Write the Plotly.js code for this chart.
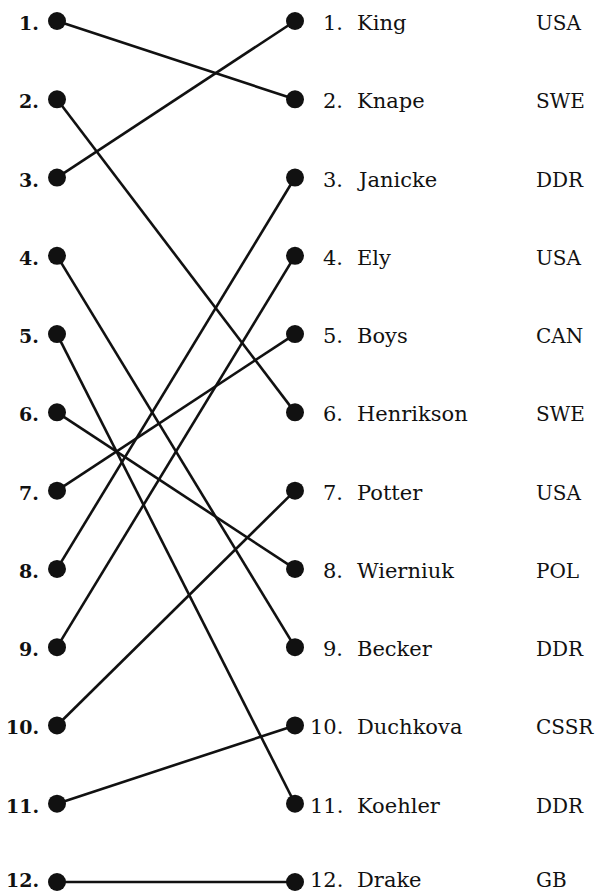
<!DOCTYPE html>
<html>
<head>
<meta charset="utf-8">
<script src="https://cdn.plot.ly/plotly-3.0.1.min.js"></script>
<style>html,body{margin:0;padding:0;background:#fff;}#chart{width:596px;height:895px;}</style>
</head>
<body>
<div id="chart"></div>
<script>
// Final ranking (right column), in order of final place
const finalRanks = [1,2,3,4,5,6,7,8,9,10,11,12];
const names = ["King","Knape","Janicke","Ely","Boys","Henrikson","Potter","Wierniuk","Becker","Duchkova","Koehler","Drake"];
const countries = ["USA","SWE","DDR","USA","CAN","SWE","USA","POL","DDR","CSSR","DDR","GB"];
// Earlier ranking (left column) of each athlete above
const startRanks = [3,1,8,9,7,2,10,6,4,11,5,12];
const leftLabels = ["1.","2.","3.","4.","5.","6.","7.","8.","9.","10.","11.","12."];

const ink = "#111111";
const W = 596, H = 895;
const xLeftPx = 57, xRightPx = 295;
const pxPerUnit = xRightPx - xLeftPx;
const xr = [-xLeftPx / pxPerUnit, (W - xLeftPx) / pxPerUnit];
const yTop = 21, yBot = 882;
const pxPerRank = (yBot - yTop) / 11;
const yr = [1 + (H - yTop) / pxPerRank, 1 - yTop / pxPerRank];
const toX = px => (px - xLeftPx) / pxPerUnit;

const traces = names.map((n, i) => ({
  type: "scatter", mode: "lines+markers",
  x: [0, 1], y: [startRanks[i], finalRanks[i]],
  line: {color: ink, width: 2.6},
  marker: {color: ink, size: 18},
  hoverinfo: "skip", showlegend: false
}));

const fam = "DejaVu Serif";
const font = {family: fam, size: 21, color: ink};
const fontC = {family: fam, size: 20, color: ink};
const fontBold = {family: fam, size: 19, color: ink, weight: "bold"};
const shiftFor = r => (r === 12 ? 2 : -2);
const annotations = [];
leftLabels.forEach((t, i) => {
  annotations.push({x: toX(41), y: i + 1, xref: "x", yref: "y", text: "<b>" + t + "</b>",
    showarrow: false, xanchor: "right", yanchor: "middle", yshift: shiftFor(i + 1), font: fontBold});
});
finalRanks.forEach((r, i) => {
  annotations.push({x: toX(345), y: r, xref: "x", yref: "y", text: r + ".",
    showarrow: false, xanchor: "right", yanchor: "middle", yshift: shiftFor(r), font: font});
  annotations.push({x: toX(355), y: r, xref: "x", yref: "y", text: names[i],
    showarrow: false, xanchor: "left", yanchor: "middle", yshift: shiftFor(r), font: font});
  annotations.push({x: toX(534), y: r, xref: "x", yref: "y", text: countries[i],
    showarrow: false, xanchor: "left", yanchor: "middle", yshift: shiftFor(r), font: fontC});
});

const layout = {
  width: W, height: H,
  margin: {l: 0, r: 0, t: 0, b: 0},
  paper_bgcolor: "#ffffff", plot_bgcolor: "#ffffff",
  xaxis: {range: xr, visible: false, fixedrange: true},
  yaxis: {range: yr, visible: false, fixedrange: true},
  annotations: annotations,
  showlegend: false
};
Plotly.newPlot("chart", traces, layout, {displayModeBar: false, staticPlot: true});
</script>
</body>
</html>
